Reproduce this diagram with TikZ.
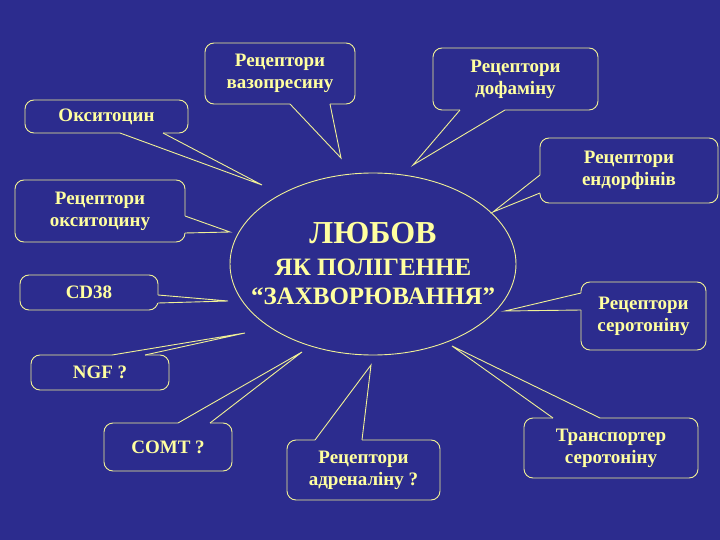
\documentclass[tikz,border=0pt]{standalone}
\usepackage{fontspec}
\usetikzlibrary{shapes.geometric}
\setmainfont{Liberation Serif}
\definecolor{bg}{RGB}{44,44,142}
\definecolor{txt}{RGB}{255,255,160}
\definecolor{ln}{RGB}{240,240,150}
\begin{document}
\begin{tikzpicture}[x=1pt,y=-1pt,
  box/.style={draw=ln,line width=0.9pt,rounded corners=9pt,fill=bg,text=txt,
    font=\bfseries\fontsize{19}{22}\selectfont,align=center,inner sep=0pt},
  wline/.style={draw=ln,line width=0.9pt,line join=miter}]
\fill[bg] (0,0) rectangle (720,540);
\useasboundingbox (0,0) rectangle (720,540);
% center
\node[draw=ln,line width=0.9pt,ellipse,minimum width=286,minimum height=182,inner sep=0pt] (c) at (373,264) {};
\node[text=txt,font=\bfseries\fontsize{32}{34}\selectfont] (t1) at (373,233) {ЛЮБОВ};
\node[text=txt,font=\bfseries\fontsize{25}{27}\selectfont] (t2) at (373,267) {ЯК ПОЛІГЕННЕ};
\node[text=txt,font=\bfseries\fontsize{25}{27}\selectfont] (t3) at (373,296) {“ЗАХВОРЮВАННЯ”};
% boxes
\node[box,minimum width=150,minimum height=61] (vaz) at (280,73.5) {Рецептори\\вазопресину};
\node[box,minimum width=165,minimum height=62] (dof) at (515.5,79) {Рецептори\\дофаміну};
\node[box,minimum width=163,minimum height=33] (oks) at (106.5,116.5) {Окситоцин};
\node[box,minimum width=170,minimum height=62] (roks) at (100,211) {Рецептори\\окситоцину};
\node[box,minimum width=178,minimum height=65] (end) at (629,170.5) {Рецептори\\ендорфінів};
\node[box,minimum width=138,minimum height=35] (cd) at (89,292.5) {CD38};
\node[box,minimum width=125,minimum height=68] (ser) at (643.5,316) {Рецептори\\серотоніну};
\node[box,minimum width=138,minimum height=35] (ngf) at (100,372.5) {NGF ?};
\node[box,minimum width=128,minimum height=48] (comt) at (168,447) {COMT ?};
\node[box,minimum width=153,minimum height=60] (adr) at (363.5,470) {Рецептори\\адреналіну ?};
\node[box,minimum width=174,minimum height=60] (tr) at (611,448) {Транспортер\\серотоніну};
% tips
\coordinate (pv) at (341,158);
\coordinate (pd) at (413,165);
\coordinate (po) at (262,185);
\coordinate (pr) at (230,232);
\coordinate (pe) at (493,212);
\coordinate (pc) at (228,301);
\coordinate (ps) at (505,311);
\coordinate (pn) at (245,333);
\coordinate (pm) at (302,352);
\coordinate (pa) at (371,365);
\coordinate (pt) at (452,346);
% wedge bases
\coordinate (va) at (290,104); \coordinate (vb) at (330,104);
\coordinate (da) at (460,110); \coordinate (db) at (505,110);
\coordinate (oa) at (120,133); \coordinate (ob) at (163,133);
\coordinate (ra) at (185,216); \coordinate (rb) at (185,233);
\coordinate (ea) at (540,175); \coordinate (eb) at (540,193);
\coordinate (ca) at (158,295); \coordinate (cb) at (158,303);
\coordinate (sa) at (581,293); \coordinate (sb) at (581,310);
\coordinate (na) at (112,355); \coordinate (nb) at (145,355);
\coordinate (ma) at (178,423); \coordinate (mb) at (210,423);
\coordinate (aa) at (315,440); \coordinate (ab) at (362,440);
\coordinate (ta) at (553,418); \coordinate (tb) at (600,418);
\foreach \a/\b/\t in {va/vb/pv,da/db/pd,oa/ob/po,ra/rb/pr,ea/eb/pe,ca/cb/pc,sa/sb/ps,na/nb/pn,ma/mb/pm,aa/ab/pa,ta/tb/pt}{
  \fill[bg] (\a) -- (\t) -- (\b) -- cycle;
  \draw[bg,line width=1.6pt] (\a) -- (\b);
  \draw[wline] (\a) -- (\t) -- (\b);
}
\end{tikzpicture}
\end{document}
